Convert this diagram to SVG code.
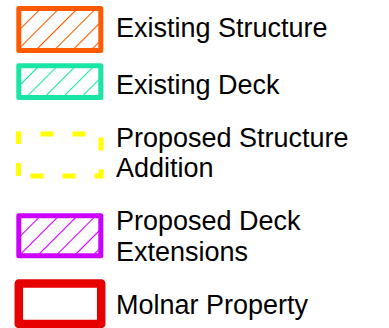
<svg xmlns="http://www.w3.org/2000/svg" width="389" height="328" viewBox="0 0 389 328">
  <style>
    .lbl { font-family: "Liberation Sans", Arial, sans-serif; font-size: 27px; fill: #000; }
    .box { stroke-width: 5; stroke-linejoin: round; }
  </style>
  <defs>
    <pattern id="hO" patternUnits="userSpaceOnUse" width="13" height="13" patternTransform="translate(3.3,0) rotate(45)">
      <line x1="6.5" y1="-1" x2="6.5" y2="14" stroke="#ff5a00" stroke-width="1.1"/>
    </pattern>
    <pattern id="hT" patternUnits="userSpaceOnUse" width="13" height="13" patternTransform="translate(3.9,0) rotate(45)">
      <line x1="6.5" y1="-1" x2="6.5" y2="14" stroke="#19e6a5" stroke-width="1.1"/>
    </pattern>
    <pattern id="hP" patternUnits="userSpaceOnUse" width="13" height="13" patternTransform="translate(8.2,0) rotate(45)">
      <line x1="6.5" y1="-1" x2="6.5" y2="14" stroke="#cc00ff" stroke-width="1.1"/>
    </pattern>
  </defs>
  <g id="existing-structure">
    <rect class="box" x="18.8" y="8.5" width="82" height="42" fill="url(#hO)" stroke="#ff5a00"/>
    <text class="lbl" x="116" y="37.3">Existing Structure</text>
  </g>
  <g id="existing-deck">
    <rect class="box" x="18.8" y="65.8" width="82" height="31.7" fill="url(#hT)" stroke="#19e6a5"/>
    <text class="lbl" x="116" y="94.3">Existing Deck</text>
  </g>
  <g id="proposed-structure-addition">
    <path d="M18.5,176 V134 H101 V176 Z" fill="none" stroke="#ffff00" stroke-width="5" stroke-dasharray="13 19"/>
    <text class="lbl" x="116" y="147.3">Proposed Structure</text>
    <text class="lbl" x="116" y="177.3">Addition</text>
  </g>
  <g id="proposed-deck-extensions">
    <rect class="box" x="18.8" y="215.8" width="82" height="40" fill="url(#hP)" stroke="#cc00ff"/>
    <text class="lbl" x="116" y="229.5">Proposed Deck</text>
    <text class="lbl" x="116" y="260.5">Extensions</text>
  </g>
  <g id="molnar-property">
    <rect x="18.8" y="283.5" width="82.4" height="40.5" fill="none" stroke="#e60000" stroke-width="8.5" stroke-linejoin="round"/>
    <text class="lbl" x="116" y="313.5">Molnar Property</text>
  </g>
  <g id="connectors"/>
</svg>
